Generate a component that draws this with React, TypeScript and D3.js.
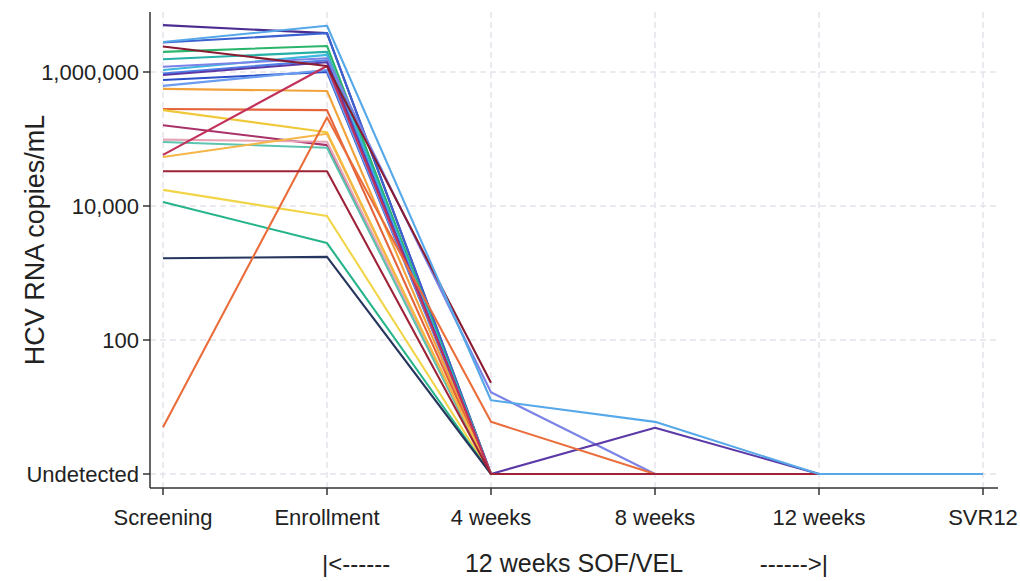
import React from "react";
import * as d3 from "d3";

const categories = ["Screening", "Enrollment", "4 weeks", "8 weeks", "12 weeks", "SVR12"];
const yTickValues = [1, 100, 10000, 1000000];
const yTickLabels = ["Undetected", "100", "10,000", "1,000,000"];
const xTitleParts = ["|<------", "12 weeks SOF/VEL", "------>|"];
const yTitle = "HCV RNA copies/mL";

// HCV RNA copies/mL per patient at each visit (1 = undetected, null = no value)
const p01 = [5000000, 3800000, 1, null, null, null];
const p02 = [2750000, 3800000, 1, null, null, null];
const p03 = [2000000, 2450000, 1, null, null, null];
const p04 = [1550000, 2000000, 1, null, null, null];
const p05 = [1070000, 1800000, 1, null, null, null];
const p06 = [950000, 1500000, 1, null, null, null];
const p07 = [760000, 1000000, 1, null, null, null];
const p08 = [620000, 1070000, 1, null, null, null];
const p09 = [1200000, 1600000, 16.6, 1, null, null];
const p10 = [900000, 1400000, 1, 4.9, 1, null];
const p11 = [560000, 520000, 1, null, null, null];
const p12 = [280000, 270000, 1, null, null, null];
const p13 = [270000, 126000, 1, null, null, null];
const p14 = [160000, 81000, 1, null, null, null];
const p15 = [98000, 91000, 1, null, null, null];
const p16 = [90000, 74000, 1, null, null, null];
const p17 = [54000, 120000, 1, null, null, null];
const p18 = [58000, 1230000, 1, null, null, null];
const p19 = [17400, 7100, 1, null, null, null];
const p20 = [11500, 2800, 1, null, null, null];
const p21 = [1660, 1740, 1, null, null, null];
const p22 = [5, 210000, 6, 1, null, null];
const p23 = [2400000, 1230000, 23, null, null, null];
const p24 = [33000, 33000, 1, 1, 1, null];
const p25 = [2800000, 4900000, 12.6, 6, 1, 1];

const patients = [p01, p02, p03, p04, p05, p06, p07, p08, p09, p10, p11, p12, p13, p14, p15, p16, p17, p18, p19, p20, p21, p22, p23, p24, p25];
const colors = [
  "#4b2c91", "#3a62d0", "#2bb56b", "#26b0a6", "#3fb8e0", "#4d7fe6", "#2a4fc8", "#6a9cf0",
  "#7b83e6", "#5b3aa8", "#f2a23a", "#e4633a", "#f0c93a", "#a8326a", "#e7a6b8", "#5cc4b0",
  "#f5b648", "#c2315a", "#f2d447", "#25b48a", "#27365e", "#ea6d3c", "#8a1c32", "#9e2338", "#56a8e8",
];

export default function App() {
  const W = 1020, H = 581;
  const left = 150, right = 998, top = 12, bottom = 488;
  const x = d3.scalePoint<string>().domain(categories).range([163, 983]);
  const y = d3.scaleLog().domain([1, 1000000]).range([474, 72]);
  const line = d3
    .line<[string, number | null]>()
    .defined((d) => d[1] != null)
    .x((d) => x(d[0]) as number)
    .y((d) => y(d[1] as number));

  const font = "Arial, 'Liberation Sans', sans-serif";
  return (
    <svg width={W} height={H} style={{ position: "absolute", left: 0, top: 0 }} fontFamily={font}>
      <rect width={W} height={H} fill="#ffffff" />
      {/* gridlines */}
      {categories.map((c) => (
        <line key={"gx" + c} x1={x(c)} x2={x(c)} y1={top} y2={bottom} stroke="#e4e4ec" strokeWidth={1.5} strokeDasharray="6,4" />
      ))}
      {yTickValues.map((v) => (
        <line key={"gy" + v} x1={left} x2={right} y1={y(v)} y2={y(v)} stroke="#e4e4ec" strokeWidth={1.5} strokeDasharray="6,4" />
      ))}
      {/* lines */}
      {patients.map((p, i) => (
        <path
          key={i}
          d={line(categories.map((c, j) => [c, p[j]] as [string, number | null])) || ""}
          fill="none"
          stroke={colors[i]}
          strokeWidth={2.1}
          strokeLinejoin="round"
        />
      ))}
      {/* axes */}
      <line x1={left} x2={left} y1={top} y2={bottom} stroke="#333" strokeWidth={1.5} />
      <line x1={left} x2={right} y1={bottom} y2={bottom} stroke="#333" strokeWidth={1.5} />
      {yTickValues.map((v, i) => (
        <g key={"yt" + v}>
          <line x1={left - 7} x2={left} y1={y(v)} y2={y(v)} stroke="#333" strokeWidth={1.5} />
          <text x={left - 11} y={y(v)} dy="0.35em" textAnchor="end" fontSize={22} fill="#222">
            {yTickLabels[i]}
          </text>
        </g>
      ))}
      {categories.map((c) => (
        <g key={"xt" + c}>
          <line x1={x(c)} x2={x(c)} y1={bottom} y2={bottom + 7} stroke="#333" strokeWidth={1.5} />
          <text x={x(c)} y={525} textAnchor="middle" fontSize={22} fill="#222">
            {c}
          </text>
        </g>
      ))}
      <text x={322} y={572} textAnchor="start" fontSize={24} fill="#222">{xTitleParts[0]}</text>
      <text x={574} y={572} textAnchor="middle" fontSize={25} fill="#222">{xTitleParts[1]}</text>
      <text x={828} y={572} textAnchor="end" fontSize={24} fill="#222">{xTitleParts[2]}</text>
      <text transform="translate(44,240) rotate(-90)" textAnchor="middle" fontSize={27} fill="#222">
        {yTitle}
      </text>
    </svg>
  );
}
